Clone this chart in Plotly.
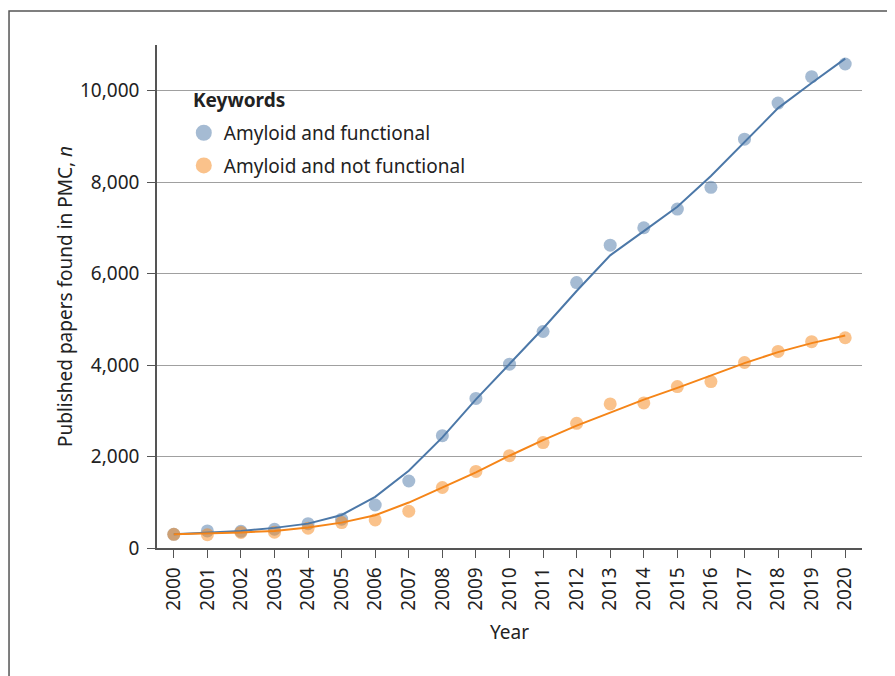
import plotly.graph_objects as go

years = list(range(2000, 2021))
year_labels = [str(y) for y in years]

functional_points = [300, 373, 365, 410, 533, 630, 940, 1465, 2456, 3270, 4020,
                     4735, 5805, 6623, 7003, 7412, 7888, 8941, 9730, 10307, 10585]
functional_fit = [300, 336, 373, 440, 533, 723, 1118, 1689, 2420, 3250, 4030,
                  4800, 5620, 6400, 6930, 7463, 8136, 8889, 9620, 10168, 10702]

not_functional_points = [300, 290, 340, 345, 432, 555, 614, 804, 1323, 1675, 2018,
                         2305, 2726, 3151, 3173, 3531, 3640, 4057, 4298, 4511, 4598]
not_functional_fit = [300, 314, 340, 373, 446, 555, 716, 994, 1323, 1652, 2018,
                      2361, 2675, 2968, 3246, 3502, 3772, 4043, 4283, 4480, 4649]

series_names = ["Amyloid and functional", "Amyloid and not functional"]
legend_title = "Keywords"
line_colors = ["#4c78a8", "#f58518"]

FONT = "Noto Sans"
TXT = "#222222"
FS = 19

fig = go.Figure()

for pts, col in [(functional_points, line_colors[0]), (not_functional_points, line_colors[1])]:
    fig.add_trace(go.Scatter(x=years, y=pts, mode="markers",
                             marker=dict(size=13, color=col, opacity=0.5, line=dict(width=0)),
                             showlegend=False, hoverinfo="x+y"))

for fit, col in [(functional_fit, line_colors[0]), (not_functional_fit, line_colors[1])]:
    fig.add_trace(go.Scatter(x=years, y=fit, mode="lines",
                             line=dict(color=col, width=2),
                             showlegend=False, hoverinfo="skip"))

for i, (name, col) in enumerate(zip(series_names, line_colors)):
    fig.add_trace(go.Scatter(x=[None], y=[None], mode="markers", name=name,
                             legendgroup=f"g{i}",
                             marker=dict(size=16, color=col, opacity=0.5, line=dict(width=0))))

fig.update_layout(
    width=895, height=676,
    margin=dict(l=149, r=41, t=37, b=136),
    paper_bgcolor="white", plot_bgcolor="white",
    font=dict(family=FONT, size=FS, color=TXT),
    legend=dict(
        font=dict(family=FONT, size=FS, color=TXT),
        x=0.038, y=0.863, xanchor="left", yanchor="top",
        bgcolor="rgba(0,0,0,0)", borderwidth=0,
        itemsizing="trace",
        tracegroupgap=5,
    ),
    annotations=[dict(text=f"<b>{legend_title}</b>", xref="paper", yref="paper",
                      x=0.0482, y=0.8907, xanchor="left", yanchor="middle",
                      showarrow=False, font=dict(family=FONT, size=FS, color=TXT))],
    xaxis=dict(
        range=[1999.5, 2020.5],
        tickmode="array", tickvals=years, ticktext=year_labels,
        tickangle=-90,
        ticks="outside", ticklen=8, tickcolor="#555555", tickwidth=1,
        ticklabelstandoff=2,
        showline=True, linecolor="#555555", linewidth=1.5,
        showgrid=False, zeroline=False,
        tickfont=dict(family=FONT, size=FS, color=TXT),
        title=dict(text="Year", font=dict(family=FONT, size=FS, color=TXT), standoff=16),
    ),
    yaxis=dict(
        range=[0, 11000],
        tickmode="array", tickvals=[0, 2000, 4000, 6000, 8000, 10000],
        ticktext=["0", "2,000", "4,000", "6,000", "8,000", "10,000"],
        ticks="outside", ticklen=8, tickcolor="#555555", tickwidth=1,
        ticklabelstandoff=4,
        showline=True, linecolor="#555555", linewidth=1.5,
        showgrid=True, gridcolor="#a0a0a0", gridwidth=1,
        zeroline=False,
        tickfont=dict(family=FONT, size=FS, color=TXT),
        title=dict(text="Published papers found in PMC, <i>n</i>",
                   font=dict(family=FONT, size=FS, color=TXT), standoff=2),
    ),
    shapes=[
        dict(type="rect", xref="paper", yref="paper",
             x0=-0.2099, x1=1.2, y0=-0.5, y1=1.0676,
             line=dict(color="#555555", width=1.5), fillcolor="rgba(0,0,0,0)",
             layer="below"),
        # white backing of the legend box (hides gridlines behind the legend)
        dict(type="rect", xref="paper", yref="paper",
             x0=0.028, x1=0.459, y0=0.71, y1=0.94,
             line=dict(width=0), fillcolor="white", layer="between"),
    ],
)

fig.write_html("out.html")
